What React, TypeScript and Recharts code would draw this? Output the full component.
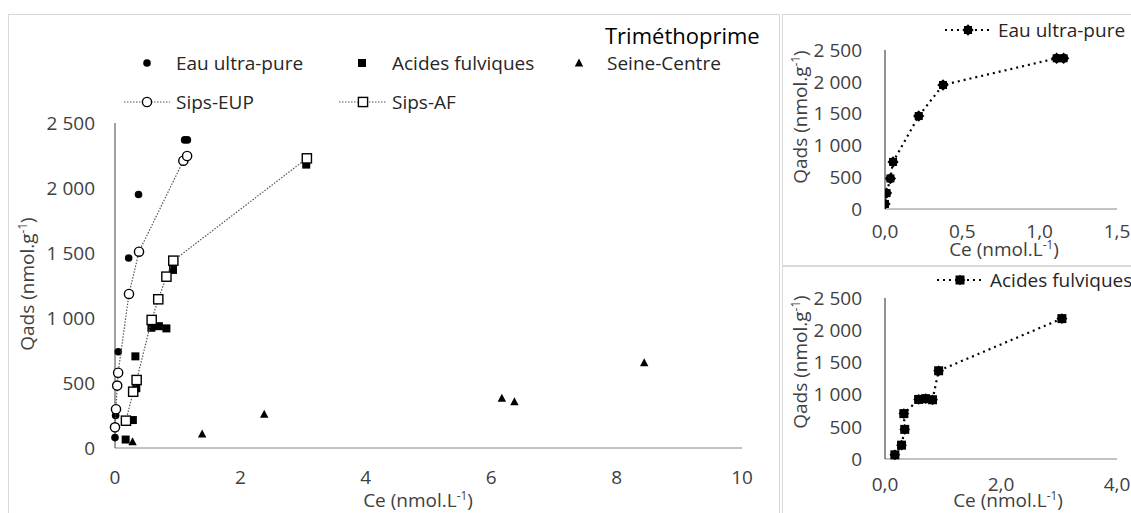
import React from 'react';
import { ScatterChart, Scatter, XAxis, YAxis } from 'recharts';

// ---- data ----
const eupCe = [0.0, 0.01, 0.035, 0.052, 0.218, 0.375, 1.11, 1.155];
const eupQ = [80, 250, 480, 740, 1462, 1950, 2370, 2370];
const afCe = [0.17, 0.285, 0.34, 0.325, 0.58, 0.7, 0.82, 0.925, 3.05];
const afQ = [65, 215, 460, 705, 925, 937, 920, 1370, 2180];
const scCe = [0.28, 1.39, 2.38, 6.17, 6.37, 8.44];
const scQ = [48, 107, 259, 382, 356, 656];
const sipsEupCe = [0.0, 0.016, 0.035, 0.05, 0.223, 0.383, 1.09, 1.15];
const sipsEupQ = [159, 298, 480, 579, 1185, 1510, 2210, 2246];
const sipsAfCe = [0.175, 0.29, 0.345, 0.585, 0.69, 0.82, 0.93, 3.06];
const sipsAfQ = [210, 433, 523, 985, 1144, 1318, 1441, 2228];

const qTicks = [0, 500, 1000, 1500, 2000, 2500];
const mainCeTicks = [0, 2, 4, 6, 8, 10];
const eupCeTicks = [0, 0.5, 1.0, 1.5];
const afCeTicks = [0, 2, 4];

const toPts = (xs: number[], ys: number[]) => xs.map((x, i) => ({ x, y: ys[i] }));

const FONT = '"Open Sans", sans-serif';
const TXT = '#404040';

const fmtQ = (v: number) => {
  const s = String(Math.round(v));
  return s.length > 3 ? s.slice(0, s.length - 3) + '\u00a0' + s.slice(s.length - 3) : s;
};
const fmtComma = (v: number) => v.toFixed(1).replace('.', ',');

// ---- marker shapes ----
const FilledCircle = (p: any) => <circle cx={p.cx} cy={p.cy} r={3.8} fill="#000" />;
const FilledSquare = (p: any) => <rect x={p.cx - 4} y={p.cy - 4} width={8} height={8} fill="#000" />;
const Triangle = (p: any) => (
  <polygon points={`${p.cx},${p.cy - 4.5} ${p.cx + 4.2},${p.cy + 3.5} ${p.cx - 4.2},${p.cy + 3.5}`} fill="#000" />
);
const OpenCircle = (p: any) => (
  <circle cx={p.cx} cy={p.cy} r={4.6} fill="#fff" stroke="#000" strokeWidth={1.4} />
);
const OpenSquare = (p: any) => (
  <rect x={p.cx - 4.6} y={p.cy - 4.6} width={9.2} height={9.2} fill="#fff" stroke="#000" strokeWidth={1.4} />
);
const StarCircle = (p: any) => (
  <g>
    <circle cx={p.cx} cy={p.cy} r={4.3} fill="#000" />
    <rect x={p.cx - 4} y={p.cy - 4} width={8} height={8} fill="#000" transform={`rotate(45 ${p.cx} ${p.cy})`} />
    <rect x={p.cx - 4} y={p.cy - 4} width={8} height={8} fill="#000" />
  </g>
);
const StarSquare = (p: any) => (
  <g>
    <rect x={p.cx - 4.5} y={p.cy - 4.5} width={9} height={9} fill="#000" />
    <rect x={p.cx - 3.8} y={p.cy - 3.8} width={7.6} height={7.6} fill="#000" transform={`rotate(45 ${p.cx} ${p.cy})`} />
  </g>
);

const tickStyle = { fill: TXT, fontSize: 19, fontFamily: FONT };

const Abs = ({ x, y, children, style }: any) => (
  <div
    style={{
      position: 'absolute',
      left: x,
      top: y,
      transform: 'translate(0,-50%)',
      whiteSpace: 'nowrap',
      fontFamily: FONT,
      fontSize: 19,
      lineHeight: 1,
      color: '#262626',
      ...style,
    }}
  >
    {children}
  </div>
);

const Sup = ({ children }: any) => (
  <span style={{ fontSize: '0.62em', position: 'relative', top: '-0.6em' }}>{children}</span>
);

const QTitle = ({ cx, cy }: any) => (
  <div
    style={{
      position: 'absolute',
      left: cx,
      top: cy,
      transform: 'translate(-50%,-50%) rotate(-90deg)',
      whiteSpace: 'nowrap',
      fontFamily: FONT,
      fontSize: 19,
      lineHeight: 1,
      color: TXT,
    }}
  >
    Qads (nmol.g<Sup>-1</Sup>)
  </div>
);

const CeTitle = ({ cx, cy }: any) => (
  <div
    style={{
      position: 'absolute',
      left: cx,
      top: cy,
      transform: 'translate(-50%,-50%)',
      whiteSpace: 'nowrap',
      fontFamily: FONT,
      fontSize: 19,
      lineHeight: 1,
      color: TXT,
    }}
  >
    Ce (nmol.L<Sup>-1</Sup>)
  </div>
);

const LegendSwatch = ({ x, y, w, marker, dash, sw, color }: any) => (
  <svg style={{ position: 'absolute', left: x, top: y - 8 }} width={w} height={16}>
    {dash ? <line x1={0} y1={8} x2={w} y2={8} stroke={color || '#555'} strokeWidth={sw || 1} strokeDasharray={dash} /> : null}
    {marker({ cx: w / 2, cy: 8 })}
  </svg>
);

export default function App() {
  return (
    <div style={{ position: 'absolute', left: 0, top: 0, width: 1131, height: 513, background: '#fff', overflow: 'hidden' }}>
      {/* panel borders */}
      <div style={{ position: 'absolute', left: 8, top: 14, width: 770, height: 520, border: '1px solid #d9d9d9' }} />
      <div style={{ position: 'absolute', left: 782, top: 14, width: 360, height: 251, border: '1px solid #d9d9d9' }} />
      <div style={{ position: 'absolute', left: 782, top: 265, width: 360, height: 260, border: '1px solid #d9d9d9' }} />

      {/* main chart */}
      <div style={{ position: 'absolute', left: 8, top: 14 }}>
        <ScatterChart width={771} height={499} margin={{ top: 109, right: 37, bottom: 35, left: 47 }}>
          <XAxis
            type="number"
            dataKey="x"
            domain={[0, 10]}
            ticks={mainCeTicks}
            tickLine={false}
            tickMargin={17}
            height={30}
            axisLine={{ stroke: '#868686' }}
            tick={tickStyle}
          />
          <YAxis
            type="number"
            dataKey="y"
            domain={[0, 2500]}
            ticks={qTicks}
            tickLine={false}
            tickMargin={14}
            width={60}
            axisLine={{ stroke: '#404040' }}
            tick={tickStyle}
            tickFormatter={fmtQ}
          />
          <Scatter data={toPts(eupCe, eupQ)} shape={FilledCircle} isAnimationActive={false} />
          <Scatter data={toPts(afCe, afQ)} shape={FilledSquare} isAnimationActive={false} />
          <Scatter data={toPts(scCe, scQ)} shape={Triangle} isAnimationActive={false} />
          <Scatter
            data={toPts(sipsEupCe, sipsEupQ)}
            shape={OpenCircle}
            line={{ stroke: '#555', strokeWidth: 1.2, strokeDasharray: '1.5 1.5' }}
            lineType="joint"
            isAnimationActive={false}
          />
          <Scatter
            data={toPts(sipsAfCe, sipsAfQ)}
            shape={OpenSquare}
            line={{ stroke: '#555', strokeWidth: 1.2, strokeDasharray: '1.5 1.5' }}
            lineType="joint"
            isAnimationActive={false}
          />
        </ScatterChart>
      </div>

      {/* main title and legend */}
      <Abs x={605} y={35} style={{ fontSize: 22, color: '#000' }}>Triméthoprime</Abs>
      <LegendSwatch x={139} y={63} w={16} marker={FilledCircle} />
      <Abs x={176} y={63}>Eau ultra-pure</Abs>
      <LegendSwatch x={354} y={63} w={16} marker={FilledSquare} />
      <Abs x={392} y={63}>Acides fulviques</Abs>
      <LegendSwatch x={571} y={63} w={16} marker={Triangle} />
      <Abs x={607} y={63}>Seine-Centre</Abs>
      <LegendSwatch x={124} y={102} w={46} marker={OpenCircle} dash="1.5 1.5" />
      <Abs x={176} y={102}>Sips-EUP</Abs>
      <LegendSwatch x={339} y={102} w={48} marker={OpenSquare} dash="1.5 1.5" />
      <Abs x={392} y={102}>Sips-AF</Abs>
      <QTitle cx={27} cy={284} />
      <CeTitle cx={418} cy={500} />

      {/* small chart 1: Eau ultra-pure */}
      <div style={{ position: 'absolute', left: 782, top: 15 }}>
        <ScatterChart width={349} height={251} margin={{ top: 35, right: 14, bottom: 27, left: 43 }}>
          <XAxis
            type="number"
            dataKey="x"
            domain={[0, 1.5]}
            ticks={eupCeTicks}
            tickLine={false}
            tickMargin={10}
            height={30}
            axisLine={{ stroke: '#868686' }}
            tick={tickStyle}
            tickFormatter={fmtComma}
            allowDataOverflow
          />
          <YAxis
            type="number"
            dataKey="y"
            domain={[0, 2500]}
            ticks={qTicks}
            tickLine={false}
            tickMargin={17}
            width={60}
            axisLine={{ stroke: '#262626' }}
            tick={tickStyle}
            tickFormatter={fmtQ}
          />
          <Scatter
            data={toPts(eupCe, eupQ)}
            shape={StarCircle}
            line={{ stroke: '#000', strokeWidth: 2.2, strokeDasharray: '2 4' }}
            lineType="joint"
            isAnimationActive={false}
          />
        </ScatterChart>
      </div>
      <LegendSwatch x={945} y={30} w={46} marker={StarCircle} dash="2 4" sw={2.2} color="#000" />
      <Abs x={998} y={30}>Eau ultra-pure</Abs>
      <QTitle cx={800} cy={117} />
      <CeTitle cx={1004} cy={249} />

      {/* small chart 2: Acides fulviques */}
      <div style={{ position: 'absolute', left: 782, top: 266 }}>
        <ScatterChart width={349} height={247} margin={{ top: 32, right: 14, bottom: 24, left: 43 }}>
          <XAxis
            type="number"
            dataKey="x"
            domain={[0, 4]}
            ticks={afCeTicks}
            tickLine={false}
            tickMargin={13}
            height={30}
            axisLine={{ stroke: '#868686' }}
            tick={tickStyle}
            tickFormatter={fmtComma}
          />
          <YAxis
            type="number"
            dataKey="y"
            domain={[0, 2500]}
            ticks={qTicks}
            tickLine={false}
            tickMargin={17}
            width={60}
            axisLine={{ stroke: '#262626' }}
            tick={tickStyle}
            tickFormatter={fmtQ}
          />
          <Scatter
            data={toPts(afCe, afQ)}
            shape={StarSquare}
            line={{ stroke: '#000', strokeWidth: 2.2, strokeDasharray: '2 4' }}
            lineType="joint"
            isAnimationActive={false}
          />
        </ScatterChart>
      </div>
      <LegendSwatch x={937} y={280} w={46} marker={StarSquare} dash="2 4" sw={2.2} color="#000" />
      <Abs x={990} y={280}>Acides fulviques</Abs>
      <QTitle cx={800} cy={362} />
      <CeTitle cx={1008} cy={500} />
    </div>
  );
}
